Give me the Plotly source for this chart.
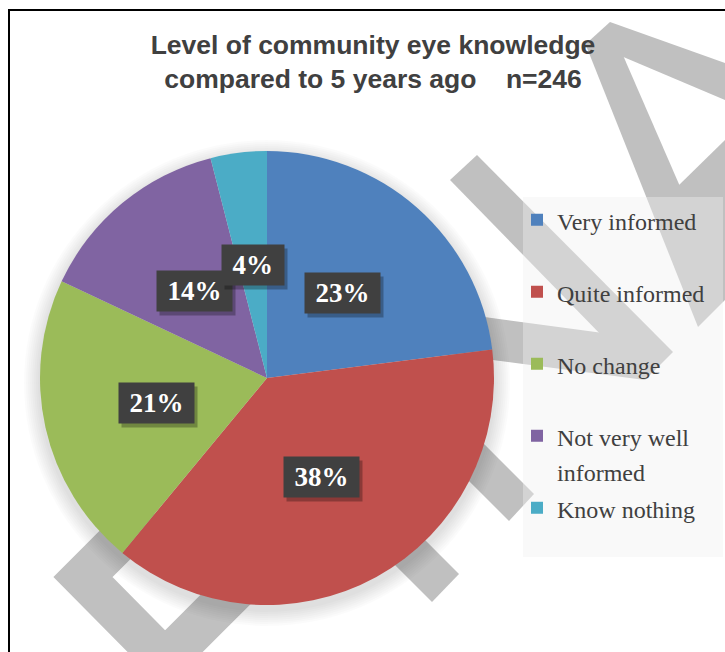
import math
import plotly.graph_objects as go

# ---------------- data ----------------
categories = ["Very informed", "Quite informed", "No change",
              "Not very well informed", "Know nothing"]
legend_lines = [["Very informed"], ["Quite informed"], ["No change"],
                ["Not very well", "informed"], ["Know nothing"]]
percents = [23, 38, 21, 14, 4]
colors = ["#4F81BD", "#C0504D", "#9BBB59", "#8064A2", "#4BACC6"]
title_lines = ["Level of community eye knowledge",
               "compared to 5 years ago\u00a0\u00a0\u00a0\u00a0n=246"]

W, H = 725, 652
CX, CY, R = 267, 378, 227


def X(x):
    return x / W


def Y(y):
    return 1 - y / H


def leg_label(lines):
    parts = [f"<span style='font-size:24px'>{l}</span>" for l in lines]
    while len(parts) < 2:
        parts.append("\u00a0")
    return "<br>".join(parts)


fig = go.Figure()
fig.add_trace(go.Pie(
    labels=[leg_label(l) for l in legend_lines],
    values=percents,
    customdata=categories,
    hovertemplate="%{customdata}: %{value}%<extra></extra>",
    marker=dict(colors=colors, line=dict(width=0)),
    sort=False, direction="clockwise", rotation=0,
    textinfo="none",
    domain=dict(x=[X(CX - R), X(CX + R)], y=[Y(CY + R), Y(CY - R)]),
))

# ---------------- watermark (decorative) ----------------
grey = "#C0C0C0"
polys = [
    [(588, 42), (610, 22), (725, 63), (725, 100)],
    [(585, 43), (612, 30), (725, 290), (725, 300), (698, 327)],
    [(677, 187), (725, 140), (725, 300), (690, 230)],
    [(450, 180), (477, 155), (673, 352), (645, 380)],
    [(440, 311), (603, 333), (645, 380), (440, 353)],
    [(454, 414), (534, 494), (509, 521), (429, 441)],
    [(379, 494), (459, 574), (432, 602), (352, 522)],
]
shapes = []
for p in polys:
    path = "M " + " L ".join(f"{X(a):.5f},{Y(b):.5f}" for a, b in p) + " Z"
    shapes.append(dict(type="path", xref="paper", yref="paper", path=path,
                       fillcolor=grey, line=dict(width=0), layer="below"))
vpath = [(150, 510), (83, 577), (165, 660), (300, 525)]
shapes.append(dict(type="path", xref="paper", yref="paper",
                   path="M " + " L ".join(f"{X(a):.5f},{Y(b):.5f}" for a, b in vpath),
                   line=dict(color=grey, width=42), layer="below"))

# soft shadow around the pie
for k in range(1, 9):
    rr = R + 2 * k
    shapes.append(dict(type="circle", xref="paper", yref="paper",
                       x0=X(CX - rr), x1=X(CX + rr),
                       y0=Y(CY + 5 + rr), y1=Y(CY + 5 - rr),
                       fillcolor="rgba(0,0,0,0.014)", line=dict(width=0),
                       layer="below"))

# legend background
shapes.append(dict(type="rect", xref="paper", yref="paper",
                   x0=X(523), x1=X(723), y0=Y(557), y1=Y(197),
                   fillcolor="rgba(240,240,240,0.4)", line=dict(width=0),
                   layer="below"))
# chart border
shapes.append(dict(type="rect", xref="paper", yref="paper",
                   x0=X(9), x1=X(760), y0=Y(700), y1=Y(10),
                   line=dict(color="black", width=2), layer="above"))

# ---------------- data labels ----------------
annotations = []
total = sum(percents)
start = 0.0
fs = 27
for v in percents:
    frac = v / total
    mid = (start + frac / 2) * 2 * math.pi
    start += frac
    lx = CX + 0.5 * R * math.sin(mid)
    ly = CY - 0.5 * R * math.cos(mid)
    txt = f"{round(v / total * 100)}%"
    tw = (0.5 * (len(txt) - 1) + 1.0) * fs + 11
    common = dict(x=X(lx), y=Y(ly), xref="paper", yref="paper",
                  xanchor="center", yanchor="middle", showarrow=False,
                  width=tw, height=30, borderpad=5)
    annotations.append(dict(**common, text="\u00a0", xshift=3, yshift=-4,
                            bgcolor="rgba(0,0,0,0.28)",
                            font=dict(family="Liberation Serif", size=fs,
                                      color="rgba(0,0,0,0)")))
    annotations.append(dict(**common, text=txt, bgcolor="#404040",
                            font=dict(family="Liberation Serif", size=fs,
                                      color="white", weight="bold")))

fig.update_layout(
    width=W, height=H,
    margin=dict(l=0, r=0, t=0, b=0),
    paper_bgcolor="white", plot_bgcolor="white",
    title=dict(text="<br>".join(title_lines), x=X(373), xanchor="center",
               xref="paper", y=Y(54), yref="container", yanchor="top",
               font=dict(family="Liberation Sans", size=26.5,
                         color="#404040", weight="bold")),
    showlegend=True,
    legend=dict(x=X(517), xanchor="left", y=Y(196), yanchor="top",
                bgcolor="rgba(0,0,0,0)", valign="top",
                font=dict(family="Liberation Serif", size=26.54, color="#404040")),
    shapes=shapes,
    annotations=annotations,
)

fig.write_html("out.html")
